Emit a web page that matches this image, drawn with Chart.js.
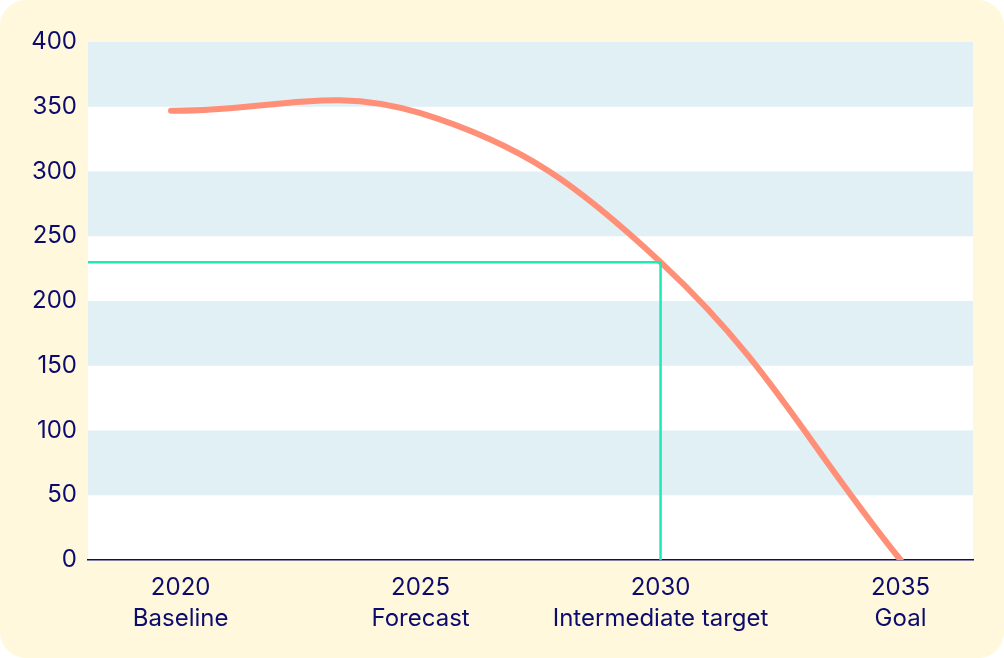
<!DOCTYPE html>
<html>
<head>
<meta charset="utf-8">
<title>Emissions pathway</title>
<script src="https://cdn.jsdelivr.net/npm/chart.js"></script>
<style>
html, body { margin: 0; padding: 0; background: #ffffff; }
.chart-box { width: 1004px; height: 658px; position: relative; }
</style>
</head>
<body>
<div class="chart-box"><canvas id="chart"></canvas></div>
<script>
// data
const years = [2020, 2025, 2030, 2035];
const milestones = ['Baseline', 'Forecast', 'Intermediate target', 'Goal'];
const pathwayYears = [2019.8, 2025, 2030, 2035];
const pathway = [347, 345, 230, 0];
const targetYear = 2030;
const targetValue = 230;
const yTicks = [0, 50, 100, 150, 200, 250, 300, 350, 400];

const navy = '#0c0c6e';
const xMin = 2018.07, xMax = 2036.51;

// cream card + white plot with light blue bands
const bgPlugin = {
  id: 'bg',
  beforeDraw(chart) {
    const ctx = chart.ctx, a = chart.chartArea;
    ctx.save();
    ctx.fillStyle = '#fff8dc';
    ctx.beginPath();
    ctx.roundRect(0, 0, chart.width, chart.height, 26);
    ctx.fill();
    ctx.fillStyle = '#ffffff';
    ctx.fillRect(a.left, a.top, a.right - a.left, a.bottom - a.top);
    const y = chart.scales.y;
    ctx.fillStyle = '#e1f0f5';
    for (let v = 50; v < 400; v += 100) {
      const top = y.getPixelForValue(v + 50), bot = y.getPixelForValue(v);
      ctx.fillRect(a.left, top, a.right - a.left, bot - top);
    }
    ctx.restore();
  }
};

new Chart(document.getElementById('chart'), {
  type: 'line',
  data: {
    datasets: [
      {
        label: 'Target',
        data: [{x: xMin, y: targetValue}, {x: targetYear, y: targetValue}, {x: targetYear, y: 0}],
        borderColor: '#1de9b6',
        borderWidth: 2.5,
        tension: 0,
        pointRadius: 0,
        order: 0
      },
      {
        label: 'Pathway',
        data: pathwayYears.map((yr, i) => ({x: yr, y: pathway[i]})),
        borderColor: '#ff8f77',
        borderWidth: 6,
        borderCapStyle: 'round',
        tension: 0.4,
        pointRadius: 0,
        order: 1
      }
    ]
  },
  options: {
    responsive: true,
    maintainAspectRatio: false,
    animation: false,
    layout: { padding: { left: 0, top: 42, right: 31, bottom: 0 } },
    plugins: { legend: { display: false }, tooltip: { enabled: false } },
    scales: {
      x: {
        type: 'linear',
        min: xMin,
        max: xMax,
        afterBuildTicks: (s) => { s.ticks = years.map(v => ({value: v})); },
        afterFit: (s) => { s.height = 98; },
        grid: { display: false, drawTicks: false },
        border: { display: true, color: navy, width: 1.5 },
        ticks: {
          color: navy,
          font: { family: 'Inter', size: 24, lineHeight: 1.3 },
          padding: 12,
          maxRotation: 0,
          callback: (v) => [String(v), milestones[years.indexOf(v)]]
        }
      },
      y: {
        min: 0,
        max: 400,
        afterBuildTicks: (s) => { s.ticks = yTicks.map(v => ({value: v})); },
        afterFit: (s) => { s.width = 88; },
        grid: { display: false, drawTicks: false },
        border: { display: false },
        ticks: {
          color: navy,
          font: { family: 'Inter', size: 24 },
          padding: 11
        }
      }
    }
  },
  plugins: [bgPlugin]
});
</script>
</body>
</html>
